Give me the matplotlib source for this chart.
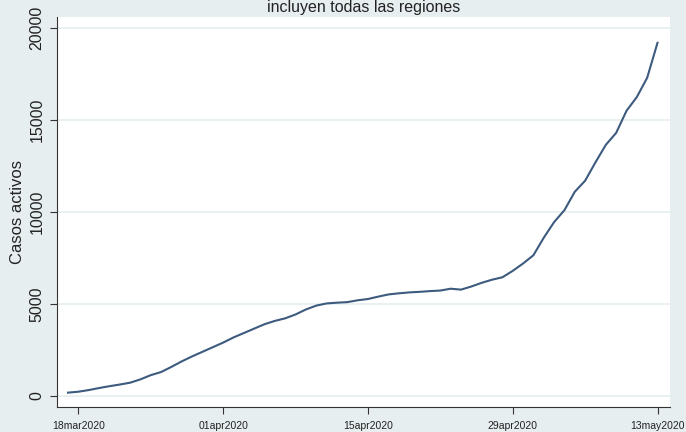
import numpy as np
import pandas as pd
import matplotlib
matplotlib.use("Agg")
import matplotlib.pyplot as plt
import matplotlib.dates as mdates

plt.rcParams['font.family'] = ['Liberation Sans', 'DejaVu Sans']

# casos activos diarios, 17mar2020 - 13may2020
fechas = pd.date_range("2020-03-17", "2020-05-13", freq="D")
casos = [180, 230, 320, 430, 530, 620, 720, 900, 1130, 1300,
         1580, 1880, 2150, 2400, 2650, 2900, 3180, 3420, 3660, 3900,
         4080, 4220, 4430, 4700, 4910, 5030, 5070, 5100, 5200, 5270,
         5400, 5520, 5580, 5630, 5660, 5700, 5730, 5830, 5780, 5950,
         6150, 6320, 6450, 6800, 7200, 7650, 8600, 9450, 10100, 11100,
         11700, 12700, 13650, 14300, 15500, 16250, 17300, 19200]
tick_fechas = pd.to_datetime(["2020-03-18", "2020-04-01", "2020-04-15",
                              "2020-04-29", "2020-05-13"])
tick_labels = ["18mar2020", "01apr2020", "15apr2020", "29apr2020", "13may2020"]
y_ticks = [0, 5000, 10000, 15000, 20000]

bg = "#e7eef0"
fig = plt.figure(figsize=(6.86, 4.32), dpi=100, facecolor=bg)
ax = fig.add_axes([0.0831, 0.0579, 0.8936, 0.9027])
ax.set_facecolor("white")

ax.plot(fechas, casos, color="#3d5a7f", linewidth=1.5, zorder=3)

ax.set_xlim(pd.Timestamp("2020-03-15 22:30"), pd.Timestamp("2020-05-14 05:00"))
ax.set_ylim(-600, 20600)

ax.set_yticks(y_ticks)
ax.set_yticklabels([str(v) for v in y_ticks], rotation=90, va="center",
                   fontsize=11.5, color="#222222")
ax.set_xticks(tick_fechas)
ax.set_xticklabels(tick_labels, fontsize=7.5, color="#222222")
ax.grid(axis="y", color="#e3ecef", linewidth=1.1, zorder=0)
ax.tick_params(axis="both", direction="out", length=5, width=0.8, color="#333333")
ax.tick_params(axis="y", pad=4)
ax.tick_params(axis="x", pad=5)

for s in ["top", "right"]:
    ax.spines[s].set_visible(False)
for s in ["left", "bottom"]:
    ax.spines[s].set_color("#333333")
    ax.spines[s].set_linewidth(0.8)

ax.set_ylabel("Casos activos", fontsize=12, color="#222222", labelpad=3)
fig.text(0.53, 1.0, "incluyen todas las regiones", ha="center", va="top",
         fontsize=11.5, color="#222222")

fig.savefig("out.png", dpi=100, facecolor=bg)
